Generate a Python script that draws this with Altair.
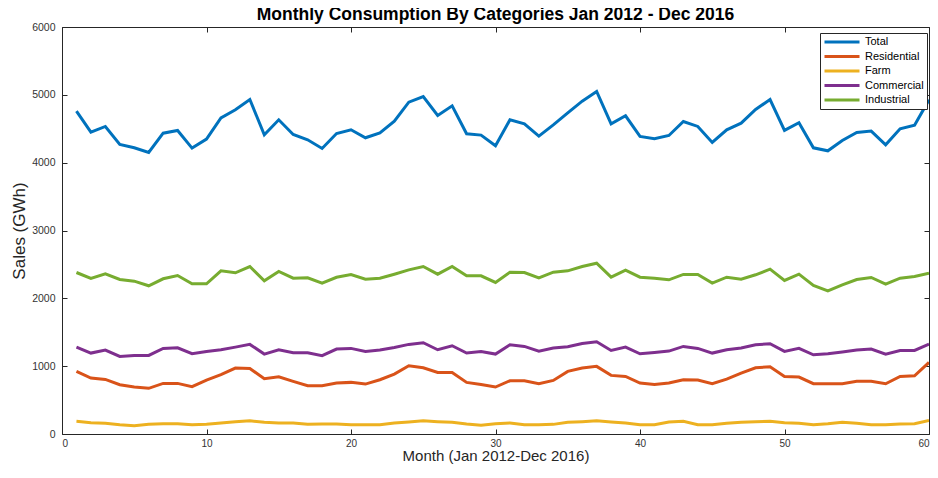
import altair as alt
import pandas as pd

months = list(range(1, 61))

total = [4760, 4450, 4534, 4269, 4220, 4151, 4435, 4475, 4215, 4347,
         4661, 4779, 4931, 4411, 4632, 4416, 4337, 4210, 4430, 4485,
         4367, 4440, 4612, 4892, 4975, 4696, 4838, 4426, 4406, 4249,
         4632, 4573, 4391, 4558, 4735, 4907, 5049, 4573, 4691, 4386,
         4352, 4401, 4607, 4534, 4298, 4485, 4583, 4784, 4931, 4475,
         4588, 4219, 4175, 4327, 4445, 4465, 4264, 4499, 4553, 4926]

residential = [923, 825, 805, 727, 692, 673, 746, 746, 697, 795,
               874, 972, 967, 815, 844, 776, 712, 712, 751, 761,
               736, 800, 884, 1006, 977, 908, 908, 761, 731, 692,
               785, 785, 741, 790, 923, 972, 997, 864, 849, 751,
               731, 751, 800, 795, 741, 810, 898, 977, 992, 849,
               839, 741, 741, 741, 776, 776, 741, 849, 859, 1055]

farm = [187, 167, 157, 137, 123, 142, 152, 152, 137, 142,
        162, 182, 196, 172, 162, 162, 142, 147, 147, 137,
        137, 137, 162, 177, 196, 182, 172, 147, 128, 152,
        162, 137, 137, 142, 172, 182, 196, 177, 162, 137,
        137, 177, 187, 137, 137, 157, 172, 182, 187, 167,
        157, 137, 152, 172, 157, 137, 137, 147, 152, 201]

commercial = [1281, 1193, 1237, 1144, 1159, 1159, 1262, 1271, 1183, 1217,
              1242, 1281, 1321, 1178, 1242, 1198, 1198, 1154, 1252, 1262,
              1217, 1237, 1276, 1321, 1345, 1242, 1301, 1193, 1217, 1178,
              1316, 1291, 1222, 1267, 1286, 1335, 1360, 1232, 1281, 1183,
              1203, 1222, 1291, 1262, 1193, 1242, 1267, 1316, 1330, 1217,
              1262, 1168, 1183, 1208, 1237, 1252, 1178, 1232, 1232, 1325]

industrial = [2381, 2293, 2361, 2278, 2253, 2185, 2288, 2337, 2214, 2214,
              2405, 2376, 2469, 2258, 2396, 2297, 2302, 2224, 2310, 2352,
              2283, 2297, 2356, 2420, 2469, 2356, 2469, 2332, 2332, 2234,
              2386, 2381, 2302, 2386, 2405, 2469, 2518, 2312, 2415, 2312,
              2297, 2273, 2352, 2352, 2224, 2312, 2283, 2347, 2430, 2263,
              2356, 2190, 2111, 2199, 2278, 2307, 2209, 2297, 2322, 2371]

series_names = ["Total", "Residential", "Farm", "Commercial", "Industrial"]
series_colors = ["#0072BD", "#D95319", "#EDB120", "#7E2F8E", "#77AC30"]
x_ticks = [0, 10, 20, 30, 40, 50, 60]
y_ticks = [0, 1000, 2000, 3000, 4000, 5000, 6000]

series_values = [total, residential, farm, commercial, industrial]
rows = []
for name, vals in zip(series_names, series_values):
    for m, v in zip(months, vals):
        rows.append({"Month": m, "Sales": v, "Series": name})
df = pd.DataFrame(rows)

FONT = "Liberation Sans"
AX = "#262626"

x_scale = alt.Scale(domain=[0, 60], nice=False, zero=False)
y_scale = alt.Scale(domain=[0, 6000], nice=False)

lines = alt.Chart(df).mark_line(strokeWidth=3, clip=True).encode(
    x=alt.X("Month:Q", scale=x_scale,
            axis=alt.Axis(values=x_ticks, orient="bottom", offset=-5, tickSize=5,
                          labelPadding=4, labelFontSize=10,
                          title="Month (Jan 2012-Dec 2016)",
                          titleFontSize=15, titleBaseline="alphabetic", titleY=31.5,
                          format="d")),
    y=alt.Y("Sales:Q", scale=y_scale,
            axis=alt.Axis(values=y_ticks, orient="left", offset=-5, tickSize=5,
                          labelPadding=7, title="Sales (GWh)", titleFontSize=17,
                          titleBaseline="alphabetic", titleX=-43,
                          format="d")),
    color=alt.Color("Series:N",
                    scale=alt.Scale(domain=series_names, range=series_colors),
                    sort=series_names,
                    legend=alt.Legend(orient="none", legendX=758, legendY=6,
                                      symbolType="stroke", symbolSize=1225,
                                      symbolStrokeWidth=3, labelFontSize=11,
                                      labelFont=FONT, labelColor="black",
                                      strokeColor=AX, fillColor="white",
                                      padding=3, clipHeight=12, rowPadding=2.5,
                                      title=None)),
    order=alt.Order("Month:Q"),
)

frame = alt.Chart(df).mark_line(opacity=0).encode(
    x=alt.X("Month:Q", scale=x_scale,
            axis=alt.Axis(values=x_ticks, orient="top", offset=-5, tickSize=5,
                          labels=False, title=None)),
    y=alt.Y("Sales:Q", scale=y_scale,
            axis=alt.Axis(values=y_ticks, orient="right", offset=-5, tickSize=5,
                          labels=False, title=None)),
    detail="Series:N",
)

chart = alt.layer(lines, frame).resolve_axis(
    x="independent", y="independent"
).properties(
    width=867,
    height=407,
    title=alt.TitleParams("Monthly Consumption By Categories Jan 2012 - Dec 2016",
                          fontSize=17.5, fontWeight="bold", font=FONT, color="black",
                          offset=0, dy=15.5, anchor="middle", baseline="alphabetic"),
    autosize=alt.AutoSizeParams(type="none"),
    padding={"left": 54, "top": 19, "right": 1, "bottom": 30},
).configure_view(
    stroke=AX, strokeWidth=1
).configure_axis(
    domain=False, grid=False, tickColor=AX, tickWidth=1,
    labelFont=FONT, labelFontSize=10.5, labelColor="#333333",
    titleFont=FONT, titleFontWeight="normal", titleColor=AX,
)

chart.save("out.html", embed_options={"renderer": "svg", "actions": False})
